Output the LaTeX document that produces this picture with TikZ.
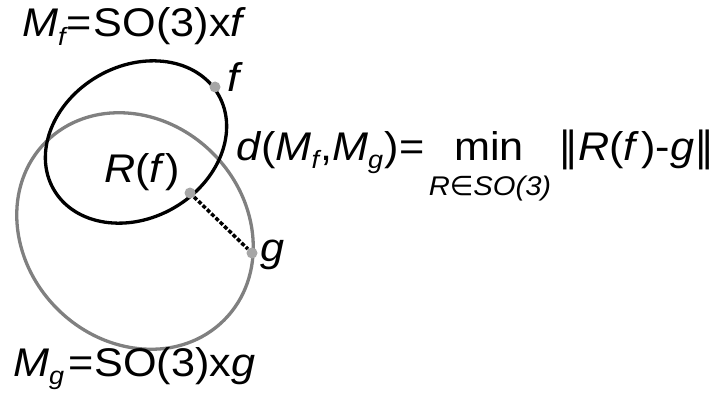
\documentclass[tikz,border=0pt]{standalone}
\usepackage{fontspec}
\setmainfont{Liberation Sans}[FakeStretch=1.08]
\newfontfamily\symfont{DejaVu Sans}
\usetikzlibrary{positioning}

% lowered small italic index
\newcommand\lo[1]{\raisebox{-0.22em}{\fontsize{25}{25}\selectfont\itshape #1}}

\begin{document}
\begin{tikzpicture}[
    x=1pt, y=-1pt,
    every node/.style={inner sep=0pt, font=\fontsize{40}{44}\selectfont},
    spot/.style={circle, fill=gray!70, inner sep=0pt, minimum size=11pt},
    blackloop/.style={line width=3.3pt, black},
    grayloop/.style={line width=3.3pt, gray},
    gap/.style={line width=3.5pt, dash pattern=on 4pt off 2pt}
  ]
  \useasboundingbox (0,0) rectangle (726,396);

  % --- the two orbits ---
  \draw[grayloop] (135,231) ellipse [x radius=126pt, y radius=110pt, rotate=-45];
  \draw[blackloop] (136,142) ellipse [x radius=95pt, y radius=76pt, rotate=30];

  % --- points ---
  \node[spot] (f) at (215,87) {};
  \node[spot] (rf) at (190,193) {};
  \node[spot] (g) at (252,253) {};
  \draw[gap] (rf) -- (g);

  % --- labels ---
  \node[anchor=base west] (mflbl) at (22,37) {\textit{M}\lo{f}\kern1pt=\kern2pt SO(3)x\textit{f}};
  \node[anchor=base west] (flbl) at (227,92) {\textit{f}};
  \node[anchor=base west] (rflbl) at (104,182) {\textit{R}(\textit{f})};
  \node[anchor=base west] (glbl) at (260,261) {\textit{g}};
  \node[anchor=base west] (mglbl) at (13,376) {\textit{M}\lo{g}\kern4pt=\kern1pt SO(3)x\textit{g}};

  % --- distance formula ---
  \node[anchor=base west] (dist) at (236,160) {\textit{d}(\textit{M}\lo{f}\kern1pt,\textit{M}\lo{g}\kern1pt)\kern1pt=};
  \node[anchor=base] (minop) at (489,160) {min};
  \node[anchor=base, font=\fontsize{27}{30}\selectfont\itshape] (range) at (490,195) {R{\symfont ∈}SO(3)};
  \node[anchor=base west] (norm) at (558,160) {{\symfont ‖}\textit{R}(\textit{f}\kern2pt)-\textit{g}{\symfont ‖}};
\end{tikzpicture}
\end{document}
